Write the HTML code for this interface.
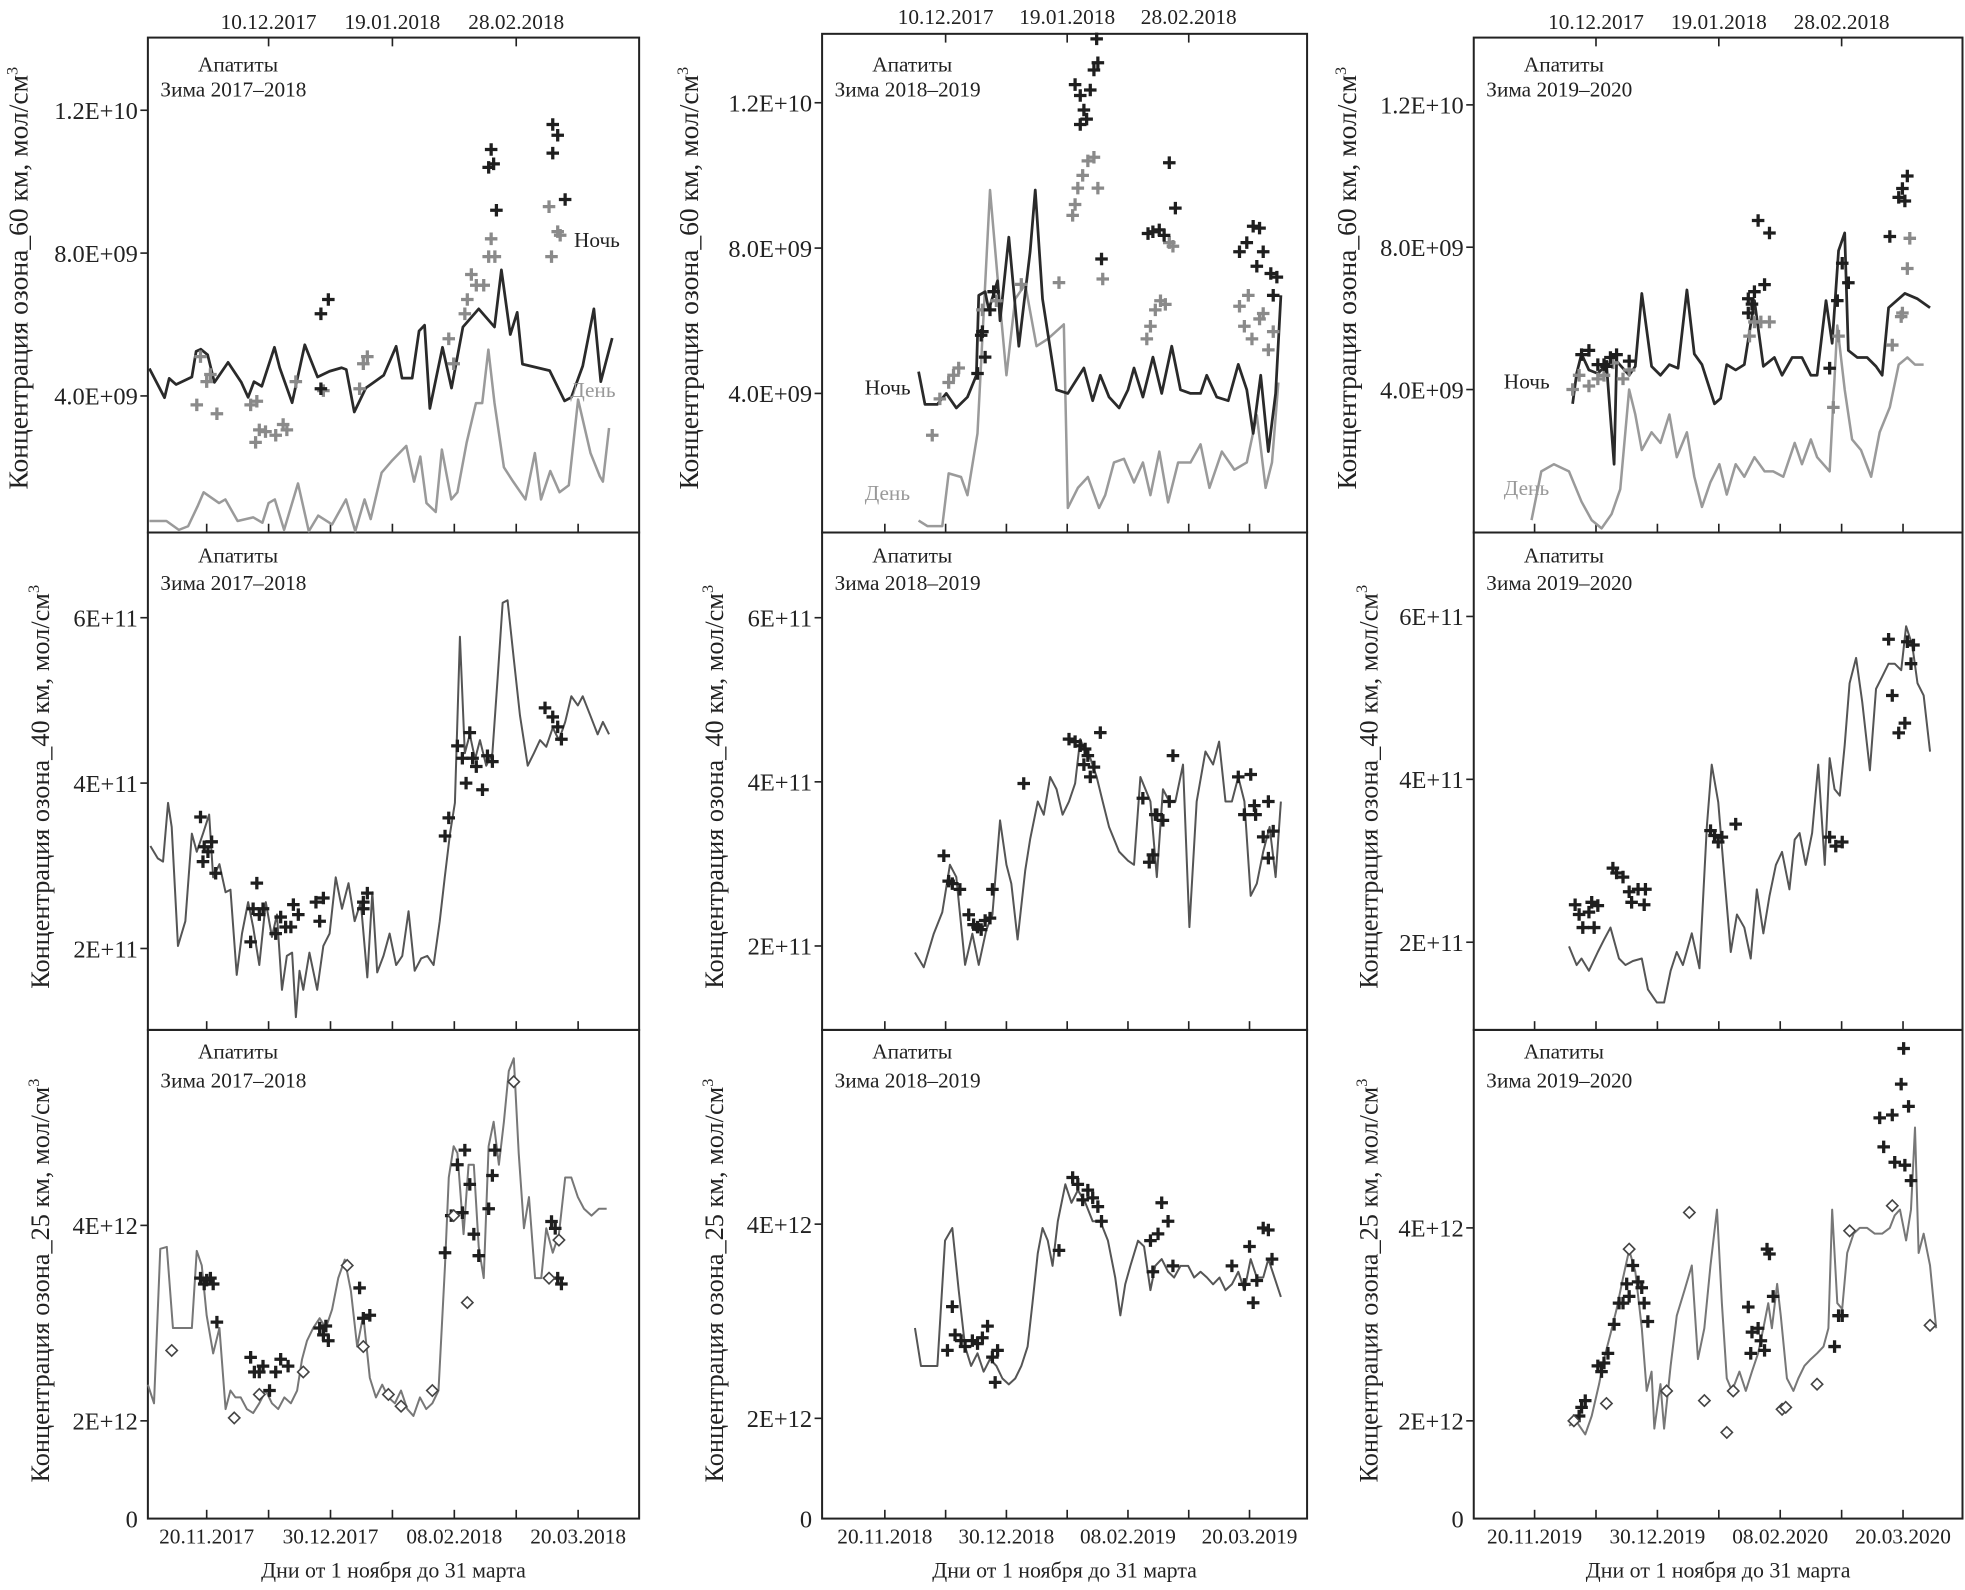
<!DOCTYPE html>
<html><head><meta charset="utf-8">
<style>
html,body{margin:0;padding:0;background:#fff;}
svg{display:block;}
text{font-family:"Liberation Serif",serif;fill:#222;}
</style></head>
<body>
<svg id="chart" width="1965" height="1590" viewBox="0 0 1568 1269" preserveAspectRatio="none" xmlns="http://www.w3.org/2000/svg"></svg>
<script>
// ---------- DATA (days since 1 Nov; values in 1e9 / 1e11 / 1e12) ----------
// Row 1 : 60 km
const r1c1NightDays=[0.5,5.4,6.9,9.1,14.2,15.6,17.1,19.3,21.5,25.9,30.2,32.4,34.3,36.8,40.9,42.6,46.6,50.7,54.8,58.7,62.6,64.1,66.7,70.4,76.2,80.2,82.1,85.4,87.6,89.4,91.1,95.2,98.1,101.8,106.9,112,114.2,117.1,119.3,121,129.8,134.6,136.8,140.5,144.1,146.3,150];
const r1c1NightVals=[4.77,3.95,4.49,4.32,4.53,5.25,5.31,5.15,4.38,4.94,4.38,3.96,4.4,4.27,5.36,4.79,3.81,5.43,4.53,4.69,4.79,4.74,3.55,4.22,4.58,5.39,4.5,4.5,5.82,5.98,3.65,5.36,4.22,5.93,6.44,5.93,7.53,5.72,6.34,4.89,4.71,3.86,3.96,4.84,6.44,4.4,5.62];
const r1c1DayDays=[0.5,6,10,13,16,18,23,25,29,34,37,39,41,44,48.5,52,55,59.5,64,67,70,72,75.5,79,83.5,86,88,90,93,95,98,100,103,106,108,110,112,115,118,122,125,127,130,133,136,139,143,146,147,149];
const r1c1DayVals=[0.5,0.5,0.25,0.35,0.9,1.3,1.0,1.1,0.5,0.6,0.45,1.0,1.1,0.25,1.55,0.15,0.65,0.4,1.1,0.1,1.1,0.55,1.85,2.2,2.6,1.6,2.3,1.0,0.75,2.5,1.1,1.3,2.7,3.8,3.8,5.3,3.8,2.0,1.6,1.1,2.4,1.1,1.9,1.3,1.5,3.9,2.4,1.75,1.6,3.1];
const r1c1NightPtDays=[110.9,110.1,111.7,112.6,130.8,132.4,130.8,134.8,55.9,58.3,55.9];
const r1c1NightPtVals=[10.9,10.4,10.5,9.2,11.6,11.3,10.8,9.5,6.3,6.7,4.2];
const r1c1DayPtDays=[17,15.8,19,20.2,22.3,33.2,34.8,36,38,41.3,43.7,44.9,35.2,47.8,56.7,69.6,70.9,68.4,97.2,98.8,102.4,103.2,106.1,108.5,104.5,110.9,110.1,112.1,129.6,130.4,132.4,133.2];
const r1c1DayPtVals=[5.1,3.75,4.4,4.6,3.5,3.75,2.7,3.05,3.0,2.9,3.2,3.05,3.85,4.4,4.15,4.9,5.1,4.2,5.6,4.9,6.3,6.7,7.1,7.1,7.4,8.4,7.9,7.9,9.3,7.9,8.6,8.5];

const r1c2NightDays=[30.1,32.2,36.3,39.2,42.5,46.2,49.1,49.9,52,53.2,56.1,56.9,59.8,63.1,66.8,68.5,70.9,75.5,79.2,84.5,87.4,89.9,92.8,96.1,99,101,103.9,107.2,110.1,113.4,116.3,119.6,122.9,124.9,128.2,132,135.3,138.1,140.2,142.7,145.2,147.6,149.3];
const r1c2NightVals=[4.6,3.7,3.7,4.0,3.6,3.9,4.5,6.7,6.8,6.3,7.1,6.0,8.3,5.3,7.9,9.6,6.6,4.1,4.0,4.7,3.8,4.5,3.9,3.6,4.1,4.7,3.9,5.0,4.0,5.3,4.1,4.0,4.0,4.5,3.9,3.8,4.8,4.1,2.9,4.5,2.4,4.0,6.7];
const r1c2DayDays=[30.1,33,37.9,40,44.1,46.2,49.5,53.6,56.1,59,61.9,65.2,68.9,72.6,77.9,79.2,82.5,85.8,89.5,91.5,94.4,97.7,101,103.9,106.4,109.3,112.2,115.5,119.6,122.9,125.8,129.9,134,138.1,141.4,144.3,146.4,148.5];
const r1c2DayVals=[0.5,0.35,0.35,1.8,1.7,1.2,2.9,9.6,7.2,4.5,6.6,7.0,5.3,5.5,5.9,0.85,1.4,1.7,0.85,1.2,2.1,2.2,1.55,2.1,1.2,2.4,1.0,2.1,2.1,2.6,1.4,2.4,1.9,2.1,3.4,1.4,2.1,4.3];
const r1c2NightPtDays=[49.5,50.7,51.1,52,53.6,54.8,81.6,83.3,84.5,83.3,85.4,86.6,87.8,89.1,88.7,90.3,105.6,107.2,109.3,110.9,112.6,114.6,135.7,138.1,140.2,141.4,142.3,143.5,146,146.8,148];
const r1c2NightPtVals=[4.55,5.6,5.7,5.0,6.3,6.8,12.5,12.2,11.8,11.4,11.55,12.35,12.9,13.1,13.8,7.7,8.4,8.45,8.5,8.35,10.35,9.1,7.9,8.15,8.6,7.5,8.55,7.9,7.3,6.7,7.2];
const r1c2DayPtDays=[34.6,37.1,40,41.6,43.3,51.1,55.7,63.9,76.3,80.8,81.6,82.5,84.1,85.8,87.8,89.1,90.7,105.2,106.4,108,109.7,111.3,112.6,113.8,135.7,137.3,138.6,139.8,142.3,143.5,145.2,146.8];
const r1c2DayPtVals=[2.85,3.85,4.3,4.5,4.7,6.3,6.55,7.0,7.05,8.9,9.2,9.65,10.0,10.4,10.5,9.65,7.15,5.5,5.85,6.3,6.55,6.45,8.15,8.05,6.4,5.85,6.7,5.5,6.05,6.2,5.2,5.7];

const r1c3NightDays=[31.4,32.7,34.3,36.7,39.6,42.4,44.9,45.7,49.8,51.8,53.9,57.1,60,62.9,65.7,68.6,71,73.5,77.6,79.6,81.6,84.5,87.3,90.6,93.5,97.1,99.6,102.9,106.1,109,111,113.9,115.9,118,120,121.2,124.1,127.3,130.2,132.2,134.3,139.6,143.7,147.8];
const r1c3NightVals=[3.6,4.45,5.0,4.55,4.45,4.7,1.9,4.8,4.4,4.65,6.7,4.65,4.4,4.7,4.6,6.8,5.0,4.7,3.6,3.75,4.7,4.55,4.7,6.5,4.65,4.9,4.4,4.9,4.9,4.4,4.4,6.5,5.3,7.9,8.4,5.1,4.9,4.9,4.65,4.4,6.3,6.7,6.55,6.3];
const r1c3DayDays=[18,21.2,25.3,30.2,34.3,37.6,40.8,44.1,46.9,49.8,51.8,53.9,57.1,60,62.9,65.3,68.6,71,73.5,76.3,79.2,81.6,84.5,87.3,90.6,93.9,96.7,100,103.7,106.1,109,111,115.1,117.6,120,122.4,125.3,128.6,131.4,134.7,137.6,140.4,142.9,145.7];
const r1c3DayVals=[0.33,1.7,1.9,1.7,0.85,0.33,0.1,0.5,1.2,4.0,3.3,2.3,2.8,2.5,3.3,2.1,2.8,1.55,0.7,1.4,1.9,1.05,1.9,1.55,2.1,1.7,1.7,1.55,2.5,1.9,2.6,2.1,1.7,5.8,4.0,2.6,2.3,1.55,2.8,3.5,4.7,4.9,4.7,4.7];
const r1c3NightPtDays=[34.3,36.7,39.6,41.6,45.7,49.8,43.7,42.4,88.6,89.8,88.6,90.6,91.8,95.5,93.9,115.1,117.6,119.2,121.2,134.7,137.6,139.6,140.4,138.8];
const r1c3NightPtVals=[4.98,5.1,4.7,4.7,4.98,4.8,4.9,4.65,6.55,6.4,6.15,6.75,8.75,8.4,6.95,4.6,6.5,7.55,7.0,8.3,9.4,9.3,10.0,9.65];
const r1c3DayPtDays=[31.4,33.5,36.7,39.6,41.6,44.5,47.8,49.8,89,90.6,92.7,95.5,116.3,118,135.5,138.8,140.4,141.2,138.4];
const r1c3DayPtVals=[4.0,4.4,4.1,4.3,4.4,4.75,4.3,4.55,5.5,5.9,5.9,5.9,3.5,5.5,5.25,6.15,7.4,8.25,6.05];

// Row 2 : 40 km
const r2c1Days=[0.8,3.2,4.9,6.5,7.7,9.7,12.1,14.2,15.8,17.8,19.8,21.1,23.1,25.1,26.7,28.7,30.4,32.4,34,36,38.1,40.1,41.7,43.3,44.9,46.6,47.8,49,50.2,52.2,54.7,56.7,58.7,60.7,62.7,64.8,66.8,68.8,70.9,72.5,74.1,76.1,78.1,80.2,82.2,84.2,86.2,88.3,90.3,92.3,94.3,95.9,97.6,99.2,100.8,102.4,104,105.7,107.3,109.3,111.3,113,114.6,116.2,118.2,120.2,122.7,124.7,126.7,128.7,130.8,132.8,134.8,136.8,138.9,140.5,142.9,145.3,147,149];
const r2c1Vals=[3.24,3.09,3.05,3.76,3.47,2.03,2.33,3.39,3.17,3.39,3.62,2.86,3.02,2.68,2.71,1.68,2.18,2.56,2.26,1.8,2.56,2.14,2.41,1.5,1.91,1.95,1.17,1.73,1.5,1.95,1.5,2.03,2.18,2.86,2.48,2.79,2.33,2.56,1.65,2.68,1.71,1.91,2.18,1.8,1.91,2.45,1.73,1.88,1.91,1.8,2.33,2.86,3.39,3.76,5.77,4.36,4.59,4.29,4.52,4.21,4.36,5.27,6.18,6.21,5.5,4.82,4.21,4.36,4.52,4.44,4.67,4.52,4.74,5.05,4.94,5.05,4.82,4.59,4.74,4.59];
const r2c1PtDays=[17,18.2,19.4,20.6,17.8,21.9,35.2,34,36,37.2,33.2,41.3,42.9,44.5,47,46.2,48.6,54.3,55.5,56.7,69.6,70.9,69.6,96,97.2,100,101.6,104,102.8,104.9,106.1,108.1,109.7,111.3,128.3,130.8,132.4,133.6];
const r2c1PtVals=[3.59,3.23,3.17,3.29,3.05,2.91,2.79,2.48,2.41,2.48,2.08,2.18,2.38,2.26,2.53,2.26,2.41,2.56,2.33,2.61,2.56,2.67,2.48,3.36,3.58,4.45,4.3,4.61,4.0,4.3,4.2,3.92,4.33,4.26,4.91,4.8,4.68,4.53];

const r2c2Days=[28.9,31.8,35.1,37.9,40.4,42.5,45.4,47.8,49.9,52.4,54.4,56.9,59,60.6,62.7,65.2,66.8,69.3,71.3,73.4,75.5,77.5,79.6,81.6,83.3,84.9,86.6,88.7,90.7,92.8,96.1,99,101,103.1,106.4,108.5,110.5,112.6,114.6,117.1,119.2,121.6,124.5,127,129,131.1,133.2,135.3,137.3,139.4,141.4,143.5,145.6,147.6,149.3];
const r2c2Vals=[1.92,1.74,2.15,2.41,2.99,2.84,1.77,2.15,1.77,2.2,2.38,3.53,2.99,2.76,2.08,2.92,3.3,3.76,3.6,4.06,3.91,3.6,3.76,3.98,4.52,4.37,4.29,4.06,3.76,3.45,3.15,3.04,2.99,4.06,3.76,2.84,3.91,3.76,3.76,4.21,2.23,3.76,4.37,4.21,4.49,3.76,3.76,4.06,3.76,2.61,2.76,3.15,3.45,2.84,3.76];
const r2c2PtDays=[38.4,40,41.2,43.7,46.6,48.2,49.5,50.7,52,53.6,54.4,64.7,79.6,81.6,83.3,84.9,85.8,84.5,86.6,87.8,89.9,103.9,106,107.2,108.5,110.5,112.6,113.8,108,135.3,139.4,140.6,137.3,141,143.5,145.2,146.8,145.2];
const r2c2PtVals=[3.1,2.79,2.76,2.69,2.38,2.26,2.23,2.2,2.31,2.34,2.69,3.98,4.52,4.49,4.44,4.4,4.32,4.21,4.06,4.18,4.6,3.8,3.02,3.11,3.6,3.53,3.76,4.32,3.6,4.06,4.09,3.71,3.6,3.6,3.33,3.07,3.4,3.76];

const r2c3Days=[30.2,32.7,34.3,36.7,39.6,41.6,43.7,46.5,48.6,51,53.9,55.9,58.8,61.2,63.3,65.3,67.3,70.2,72.7,75.1,76.7,78.8,80.8,82.9,84.9,87.3,89.4,91.4,93.5,95.5,97.6,99.6,102,103.7,105.3,107.3,109.4,111.4,113.5,115.1,116.7,118.4,120,121.6,123.7,125.7,128.2,130.2,132.2,134.3,136.3,138.4,140,142,143.7,145.7,147.8];
const r2c3Vals=[1.95,1.72,1.8,1.65,1.88,2.03,2.18,1.8,1.72,1.77,1.8,1.42,1.26,1.26,1.65,1.88,1.72,2.11,1.68,3.42,4.18,3.72,2.8,1.88,2.34,2.18,1.8,2.65,2.11,2.57,2.95,3.11,2.65,3.26,3.34,2.95,3.34,4.18,2.95,4.26,3.88,3.8,4.42,5.18,5.49,4.95,4.11,5.11,5.26,5.42,5.42,5.34,5.88,5.65,5.18,5.03,4.34];
const r2c3PtDays=[32.2,33.5,34.7,36.7,38.4,39.6,37.6,44.5,45.7,47.8,49.8,50.6,52.7,54.7,55.1,76.3,77.6,78.8,80,84.5,115.1,117.1,119.2,134.3,135.5,137.6,139.6,141.6,142.4,140.4];
const r2c3PtVals=[2.46,2.34,2.18,2.37,2.18,2.45,2.49,2.91,2.85,2.8,2.62,2.49,2.65,2.46,2.65,3.37,3.31,3.23,3.29,3.45,3.29,3.18,3.23,5.72,5.03,4.57,4.69,5.42,5.65,5.69];

// Row 3 : 25 km
const r3c1Days=[0,2,4,6.1,8.1,10.1,12.1,14.2,15.8,17.4,19,21.1,23.1,25.1,26.7,28.3,30,32,34,36,38.1,40.1,42.1,44.1,46.2,48.2,49.8,51.4,53.4,55.5,57.5,59.5,61.5,63.6,65.6,67.6,69.6,71.7,73.7,75.7,77.7,79.8,81.8,83.8,85.8,87.9,89.9,91.9,93.9,96,97.2,98.8,100,102,103.6,105.3,106.9,108.5,110.1,111.7,113.4,115,116.6,118.2,119.8,121.5,123.1,125.1,127.1,128.7,130.8,132.8,134.8,136.8,138.9,140.9,143.3,145.7,148.2];
const r3c1Vals=[2.37,2.18,3.76,3.78,2.95,2.95,2.95,2.95,3.74,3.59,3.08,2.69,2.95,2.12,2.31,2.24,2.24,2.12,2.08,2.18,2.31,2.18,2.12,2.24,2.18,2.31,2.63,2.82,2.95,3.05,2.95,3.14,3.46,3.65,3.33,2.76,3.08,2.44,2.24,2.37,2.24,2.18,2.31,2.12,2.05,2.24,2.12,2.18,2.31,3.59,4.49,4.81,4.74,3.91,4.62,4.62,3.78,3.46,4.81,5.06,4.62,5.06,5.58,5.71,4.74,3.97,4.29,3.46,3.46,3.97,3.72,3.91,4.49,4.49,4.29,4.17,4.1,4.17,4.17];
const r3c1PtDays=[17,18.2,19,20.2,21.1,22.3,33.2,34.4,36,37.2,39.3,41.3,42.9,45.3,55.5,56.7,57.5,58.3,68.4,69.6,71.7,96,98,100,102.4,101.6,104,105.3,106.9,110.1,111.3,112.1,130.4,131.6,133.6,132.4];
const r3c1PtVals=[3.46,3.4,3.44,3.46,3.4,3.01,2.65,2.5,2.5,2.56,2.31,2.5,2.63,2.56,2.95,2.88,2.97,2.82,3.36,3.05,3.08,3.72,4.1,4.62,4.77,4.13,4.42,3.91,3.69,4.17,4.51,4.77,4.04,3.97,3.4,3.46];
const r3c1DiaDays=[7.7,27.9,36,50.2,64.4,69.6,77.7,81.8,91.9,98.8,103.2,118.2,129.6,132.8];
const r3c1DiaVals=[2.72,2.03,2.27,2.5,3.59,2.76,2.27,2.15,2.31,4.1,3.21,5.47,3.46,3.85];

const r3c2Days=[28.9,30.9,33.8,36.3,38.8,41.2,43.3,45.4,47.4,49.5,51.5,53.6,55.7,57.7,59.8,61.9,63.9,66,67.6,69.3,70.9,72.6,74.2,75.9,78.4,80.4,82.5,85,87.4,89.9,92.4,94.8,96.5,98.1,99.8,102.3,104.3,106.4,108,110.1,112.2,114.2,116.3,118.8,120.8,122.9,125,127,129.1,131.1,133.2,135.3,137.3,139.4,141.4,143.5,145.2,147.2,149.3];
const r3c2Vals=[2.93,2.54,2.54,2.54,3.83,3.96,3.32,2.74,2.54,2.67,2.48,2.61,2.54,2.41,2.35,2.41,2.54,2.74,3.19,3.7,3.96,3.83,3.57,4.03,4.41,4.22,4.35,4.22,4.03,4.03,3.83,3.45,3.06,3.38,3.57,3.83,3.77,3.32,3.57,3.64,3.51,3.45,3.57,3.57,3.45,3.51,3.45,3.38,3.45,3.32,3.38,3.51,3.32,3.64,3.45,3.45,3.64,3.45,3.25];
const r3c2PtDays=[41.2,39.6,42.1,44.1,45.4,47.8,49.5,51.1,52.8,54.4,55.3,56.1,76.3,80.8,82.5,84.1,85.8,87.4,89.1,90.3,106.4,107.2,108.9,110.1,112.2,113.8,133.2,137.3,139,140.2,141.4,143.5,145.2,146.4];
const r3c2PtVals=[3.15,2.7,2.86,2.8,2.74,2.8,2.77,2.83,2.95,2.63,2.37,2.7,3.73,4.48,4.41,4.25,4.35,4.27,4.18,4.03,3.83,3.51,3.9,4.22,4.03,3.57,3.57,3.38,3.77,3.19,3.42,3.96,3.94,3.64];

const r3c3Days=[30.2,32.7,35.5,37.6,40,41.6,43.7,45.7,47.8,49.8,51.8,53.9,55.5,57.1,58,60,61.2,63.3,65.3,67.8,70.2,72.2,74.3,76.3,78.4,80,81.6,83.3,85.7,87.8,89.8,91.8,93.5,95.1,96.3,98,99.2,101.2,103.3,104.9,106.9,109,111,113.1,114.7,115.9,117.6,119.2,120.8,122.9,124.9,127.3,129.8,132.2,134.7,136.3,138,140,141.6,142.9,144.1,145.7,147.8,149.8];
const r3c3Vals=[1.95,1.99,1.86,2.05,2.38,2.64,2.9,3.16,3.48,3.77,3.55,2.96,2.31,2.51,1.92,2.38,1.92,2.57,3.09,3.35,3.61,2.64,2.96,3.61,4.19,3.22,2.44,2.31,2.51,2.31,2.51,2.7,2.96,3.22,2.96,3.42,3.09,2.44,2.31,2.44,2.57,2.64,2.7,2.77,2.96,4.19,3.22,3.16,3.74,3.94,4,4,3.94,3.94,4,4.13,4.19,3.87,4.19,5.04,3.74,3.94,3.61,2.96];
const r3c3PtDays=[34.3,35.5,33.5,39.6,41.6,40.8,42.9,44.9,46.5,47.8,49,51,49.8,52.7,53.9,54.7,55.9,88.6,89.8,89.4,91.8,92.7,93.9,94.7,95.5,96.7,116.7,118,119.2,131.4,132.7,135.5,138.4,139.2,140.8,136.3,139.6,141.6];
const r3c3PtVals=[2.14,2.21,2.05,2.57,2.6,2.51,2.7,3.0,3.22,3.22,3.42,3.61,3.29,3.44,3.38,3.22,3.03,3.18,2.92,2.7,2.96,2.83,2.73,3.78,3.73,3.29,2.77,3.09,3.09,5.14,4.84,5.17,5.49,5.86,5.26,4.68,4.65,4.49];
const r3c3DiaDays=[31.8,42.4,49.8,62,69.4,74.3,81.6,83.7,99.6,100.8,111,121.6,135.5,147.8];
const r3c3DiaVals=[2.0,2.18,3.78,2.31,4.16,2.21,1.88,2.31,2.12,2.14,2.38,3.97,4.23,2.99];

// axis tick definitions
const tickDays=[19,39,59,79,99,119,139];
const topTickDays=[39,79,119];
const topTickLabels=['10.12.2017','19.01.2018','28.02.2018'];
const bottomTickDays=[19,59,99,139];
const bottomLabels=[['20.11.2017','30.12.2017','08.02.2018','20.03.2018'],['20.11.2018','30.12.2018','08.02.2019','20.03.2019'],['20.11.2019','30.12.2019','08.02.2020','20.03.2020']];
const row1Ticks=[4,8,12], row1TickLabels=['4.0E+09','8.0E+09','1.2E+10'];
const row2Ticks=[2,4,6], row2TickLabels=['2E+11','4E+11','6E+11'];
const row3Ticks=[2,4], row3TickLabels=['2E+12','4E+12'];
const winters=['Зима 2017–2018','Зима 2018–2019','Зима 2019–2020'];

// ---------- GEOMETRY ----------
const NS='http://www.w3.org/2000/svg';
const svg=document.getElementById('chart');
const cols=[{L:118,R:510,x0:118,k:2.47},{L:656,R:1043,x0:660,k:2.425},{L:1176,R:1566,x0:1178,k:2.45}];
const rows=[{T:30,B:425},{T:425,B:822},{T:822,B:1212}];
const yScales=[
 [[430,0,28.5],[430,0,29],[424.5,0,28.4]],
 [[757,2,66],[755,2,65.5],[752,2,65]],
 [[1134,2,78],[1132,2,77.5],[1134,2,77]]
];
function mk(tag,attrs,parent){const e=document.createElementNS(NS,tag);for(const a in attrs)e.setAttribute(a,attrs[a]);(parent||svg).appendChild(e);return e;}
function xf(c,d){return cols[c].x0+d*cols[c].k;}
function yf(r,c,v){const s=yScales[r][c];return s[0]-(v-s[1])*s[2];}
function clipY(r,y){return Math.max(rows[r].T+1,Math.min(rows[r].B-1,y));}

function drawLine(r,c,days,vals,color,w,name){
  const pts=days.map((d,i)=>xf(c,d).toFixed(1)+','+clipY(r,yf(r,c,vals[i])).toFixed(1)).join(' ');
  const p=mk('polyline',{points:pts,fill:'none',stroke:color,'stroke-width':w,'stroke-linejoin':'round'});
  
  
}
function drawCrosses(r,c,days,vals,color,name){
  const g=mk('g',{});
  
  
  days.forEach((d,i)=>{
    const x=xf(c,d), y=clipY(r,yf(r,c,vals[i]));
    const p=mk('path',{d:`M${x-5},${y}H${x+5}M${x},${y-5}V${y+5}`,stroke:color,'stroke-width':2.6,fill:'none'},g);
    
    
  });
}
function drawDiamonds(r,c,days,vals,name){
  const g=mk('g',{});
  
  
  days.forEach((d,i)=>{
    const x=xf(c,d), y=yf(r,c,vals[i]);
    const p=mk('path',{d:`M${x},${y-4.5}L${x+4.5},${y}L${x},${y+4.5}L${x-4.5},${y}Z`,stroke:'#444',fill:'#fff','stroke-width':1.3},g);
    
    
  });
}
function txt(x,y,s,attrs,name){
  const t=mk('text',Object.assign({x:x,y:y,'font-size':16},attrs||{}));
  t.textContent=s;
  
  
  return t;
}

const ticksByRow=[[row1Ticks,row1TickLabels],[row2Ticks,row2TickLabels],[row3Ticks,row3TickLabels]];
const yTitles=['Концентрация озона_60 км, мол/см','Концентрация озона_40 км, мол/см','Концентрация озона_25 км, мол/см'];
const titleX=[[20,555,1080],[37,575,1097],[37,575,1097]];
const titleSize=[22,21,21];

for(let c=0;c<3;c++){
  for(let r=0;r<3;r++){
    const C=cols[c],R=rows[r];
    const T=(r===0&&c===1)?27:R.T;
    const f=mk('rect',{x:C.L,y:T,width:C.R-C.L,height:R.B-T,fill:'none',stroke:'#222','stroke-width':1.6});
    
    
    tickDays.forEach(d=>{const x=xf(c,d);const t=mk('line',{x1:x,x2:x,y1:R.B,y2:R.B-7,stroke:'#222','stroke-width':1.3});
      
      });
    const [tv,tl]=ticksByRow[r];
    tv.forEach((v,i)=>{const y=yf(r,c,v);
      const t=mk('line',{x1:C.L-6,x2:C.L,y1:y,y2:y,stroke:'#222','stroke-width':1.3});
      
      
      txt(C.L-8,y+7,tl[i],{'text-anchor':'end','font-size':19.5},'y-tick-label');});
    if(r===2){txt(C.L-8,R.B+7,'0',{'text-anchor':'end','font-size':19.5},'y-tick-label-zero');}
    const ty=[222,628,1022][r];
    const tt=txt(0,0,'',{'text-anchor':'middle','font-size':titleSize[r],transform:`translate(${titleX[r][c]+2},${ty}) rotate(-90)`},'y-axis-title');
    tt.textContent=yTitles[r];
    const sup=mk('tspan',{dy:-8,'font-size':13},tt);sup.textContent='3';
    txt(C.L+40,[57,449,845][r],'Апатиты',{'font-size':17},'station-label');
    txt(C.L+10,[77,471,868][r],winters[c],{'font-size':17},'winter-label');
  }
  topTickDays.forEach((d,i)=>{const x=xf(c,d);const T=c===1?27:30;
    const t=mk('line',{x1:x,x2:x,y1:T,y2:T+7,stroke:'#222','stroke-width':1.3});
    
    
    txt(x,c===1?19:23,topTickLabels[i],{'text-anchor':'middle','font-size':17},'top-date-label');});
  bottomTickDays.forEach((d,i)=>txt(xf(c,d),1232,bottomLabels[c][i],{'text-anchor':'middle','font-size':17},'x-date-label'));
  txt((cols[c].L+cols[c].R)/2,1259,'Дни от 1 ноября до 31 марта',{'text-anchor':'middle','font-size':17.5},'x-axis-title');
}

drawLine(0,0,r1c1DayDays,r1c1DayVals,'#9a9a9a',2,'day-line-2017');
drawLine(0,0,r1c1NightDays,r1c1NightVals,'#2a2a2a',2.2,'night-line-2017');
drawCrosses(0,0,r1c1DayPtDays,r1c1DayPtVals,'#8a8a8a','day-points-2017');
drawCrosses(0,0,r1c1NightPtDays,r1c1NightPtVals,'#1e1e1e','night-points-2017');
drawLine(0,1,r1c2DayDays,r1c2DayVals,'#9a9a9a',2,'day-line-2018');
drawLine(0,1,r1c2NightDays,r1c2NightVals,'#2a2a2a',2.2,'night-line-2018');
drawCrosses(0,1,r1c2DayPtDays,r1c2DayPtVals,'#8a8a8a','day-points-2018');
drawCrosses(0,1,r1c2NightPtDays,r1c2NightPtVals,'#1e1e1e','night-points-2018');
drawLine(0,2,r1c3DayDays,r1c3DayVals,'#9a9a9a',2,'day-line-2019');
drawLine(0,2,r1c3NightDays,r1c3NightVals,'#2a2a2a',2.2,'night-line-2019');
drawCrosses(0,2,r1c3DayPtDays,r1c3DayPtVals,'#8a8a8a','day-points-2019');
drawCrosses(0,2,r1c3NightPtDays,r1c3NightPtVals,'#1e1e1e','night-points-2019');
txt(458,197,'Ночь',{'font-size':17},'night-label');
txt(455,317,'День',{'font-size':17,style:'fill:#999'},'day-label');
txt(690,315,'Ночь',{'font-size':17},'night-label');
txt(690,399,'День',{'font-size':17,style:'fill:#999'},'day-label');
txt(1200,310,'Ночь',{'font-size':17},'night-label');
txt(1200,395,'День',{'font-size':17,style:'fill:#999'},'day-label');

drawLine(1,0,r2c1Days,r2c1Vals,'#555',1.6,'ozone-40km-line-2017');
drawCrosses(1,0,r2c1PtDays,r2c1PtVals,'#1e1e1e','ozone-40km-points-2017');
drawLine(1,1,r2c2Days,r2c2Vals,'#555',1.6,'ozone-40km-line-2018');
drawCrosses(1,1,r2c2PtDays,r2c2PtVals,'#1e1e1e','ozone-40km-points-2018');
drawLine(1,2,r2c3Days,r2c3Vals,'#555',1.6,'ozone-40km-line-2019');
drawCrosses(1,2,r2c3PtDays,r2c3PtVals,'#1e1e1e','ozone-40km-points-2019');

drawLine(2,0,r3c1Days,r3c1Vals,'#777',1.6,'ozone-25km-line-2017');
drawCrosses(2,0,r3c1PtDays,r3c1PtVals,'#1e1e1e','ozone-25km-points-2017');
drawDiamonds(2,0,r3c1DiaDays,r3c1DiaVals,'ozone-25km-diamonds-2017');
drawLine(2,1,r3c2Days,r3c2Vals,'#555',1.6,'ozone-25km-line-2018');
drawCrosses(2,1,r3c2PtDays,r3c2PtVals,'#1e1e1e','ozone-25km-points-2018');
drawLine(2,2,r3c3Days,r3c3Vals,'#777',1.6,'ozone-25km-line-2019');
drawCrosses(2,2,r3c3PtDays,r3c3PtVals,'#1e1e1e','ozone-25km-points-2019');
drawDiamonds(2,2,r3c3DiaDays,r3c3DiaVals,'ozone-25km-diamonds-2019');
</script>
</body></html>
